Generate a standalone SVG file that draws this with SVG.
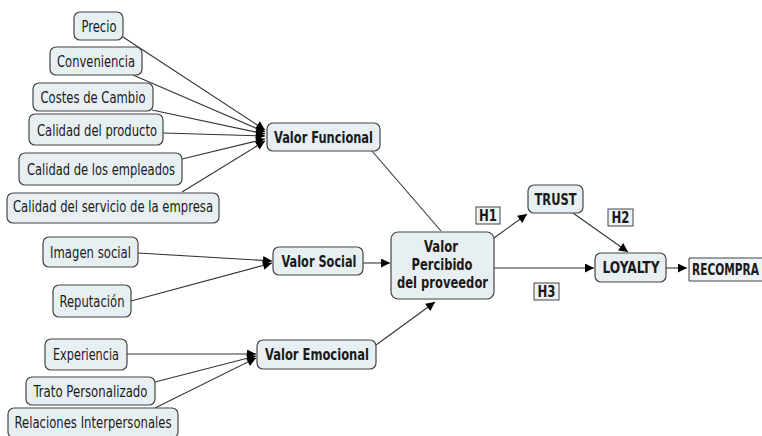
<svg xmlns="http://www.w3.org/2000/svg" width="762" height="436" viewBox="0 0 762 436">
<style>
.n rect{fill:#e8eff3;stroke:#444;stroke-width:1.2}
.n text,.h text{font-family:"DejaVu Sans Condensed","DejaVu Sans","Liberation Sans",sans-serif;font-stretch:condensed;font-size:15px;fill:#1a1a1a;text-anchor:middle}
.b text,.h text{font-weight:bold}
.h rect{fill:#eef3f6;stroke:#444;stroke-width:1}
#c line{stroke:#333;stroke-width:1.1}
</style>
<defs>
<marker id="a" viewBox="0 0 10 10" refX="10" refY="5" markerWidth="10" markerHeight="9" markerUnits="userSpaceOnUse" orient="auto"><path d="M0,0L10,5L0,10z" fill="#000"/></marker>
</defs>
<rect width="762" height="436" fill="#fff"/>
<g id="c">
<line x1="123" y1="37" x2="265" y2="130" marker-end="url(#a)"/>
<line x1="133" y1="75" x2="265" y2="132" marker-end="url(#a)"/>
<line x1="152" y1="110" x2="265" y2="134" marker-end="url(#a)"/>
<line x1="163" y1="133" x2="265" y2="136" marker-end="url(#a)"/>
<line x1="182" y1="159" x2="265" y2="139" marker-end="url(#a)"/>
<line x1="182" y1="192" x2="265" y2="141" marker-end="url(#a)"/>
<line x1="138" y1="253" x2="272" y2="261" marker-end="url(#a)"/>
<line x1="131" y1="301" x2="272" y2="263" marker-end="url(#a)"/>
<line x1="127" y1="354" x2="256" y2="354" marker-end="url(#a)"/>
<line x1="155" y1="382" x2="256" y2="356" marker-end="url(#a)"/>
<line x1="155" y1="408" x2="256" y2="358" marker-end="url(#a)"/>
<line x1="372" y1="151" x2="441" y2="231"/>
<line x1="363" y1="263" x2="390" y2="263" marker-end="url(#a)"/>
<line x1="376" y1="345" x2="435" y2="302" marker-end="url(#a)"/>
<line x1="494" y1="238" x2="527" y2="214" marker-end="url(#a)"/>
<line x1="573" y1="213" x2="628" y2="252" marker-end="url(#a)"/>
<line x1="494" y1="268" x2="594" y2="268" marker-end="url(#a)"/>
<line x1="666" y1="268" x2="687" y2="268" marker-end="url(#a)"/>
</g>
<g id="precio" class="n"><rect x="74" y="12" width="49" height="28" rx="6"/><text x="99" y="32" textLength="35" lengthAdjust="spacingAndGlyphs">Precio</text></g>
<g id="conveniencia" class="n"><rect x="50" y="47" width="92" height="28" rx="6"/><text x="96" y="67" textLength="78" lengthAdjust="spacingAndGlyphs">Conveniencia</text></g>
<g id="costes" class="n"><rect x="33" y="83" width="120" height="28" rx="6"/><text x="93" y="103" textLength="105" lengthAdjust="spacingAndGlyphs">Costes de Cambio</text></g>
<g id="producto" class="n"><rect x="29" y="114" width="134" height="31" rx="6"/><text x="97" y="136" textLength="120" lengthAdjust="spacingAndGlyphs">Calidad del producto</text></g>
<g id="empleados" class="n"><rect x="19" y="153" width="163" height="32" rx="6"/><text x="101" y="175" textLength="148" lengthAdjust="spacingAndGlyphs">Calidad de los empleados</text></g>
<g id="servicio" class="n"><rect x="7" y="193" width="212" height="30" rx="6"/><text x="113" y="212" textLength="200" lengthAdjust="spacingAndGlyphs">Calidad del servicio de la empresa</text></g>
<g id="imagen" class="n"><rect x="43" y="237" width="95" height="30" rx="6"/><text x="90.5" y="258" textLength="81" lengthAdjust="spacingAndGlyphs">Imagen social</text></g>
<g id="reputacion" class="n"><rect x="53" y="285" width="78" height="32" rx="6"/><text x="92" y="307" textLength="65" lengthAdjust="spacingAndGlyphs">Reputación</text></g>
<g id="experiencia" class="n"><rect x="45" y="339" width="82" height="31" rx="6"/><text x="86" y="360" textLength="66" lengthAdjust="spacingAndGlyphs">Experiencia</text></g>
<g id="trato" class="n"><rect x="26" y="377" width="129" height="28" rx="6"/><text x="90.5" y="397" textLength="114" lengthAdjust="spacingAndGlyphs">Trato Personalizado</text></g>
<g id="relaciones" class="n"><rect x="8" y="408" width="170" height="30" rx="6"/><text x="93" y="428" textLength="157" lengthAdjust="spacingAndGlyphs">Relaciones Interpersonales</text></g>
<g id="funcional" class="n b"><rect x="267" y="123" width="113" height="28" rx="6"/><text x="323.5" y="143" textLength="99" lengthAdjust="spacingAndGlyphs">Valor Funcional</text></g>
<g id="social" class="n b"><rect x="273" y="247" width="90" height="28" rx="6"/><text x="319" y="267" textLength="75" lengthAdjust="spacingAndGlyphs">Valor Social</text></g>
<g id="emocional" class="n b"><rect x="257" y="340" width="119" height="29" rx="6"/><text x="317" y="360" textLength="104" lengthAdjust="spacingAndGlyphs">Valor Emocional</text></g>
<g id="percibido" class="n b"><rect x="391" y="232" width="103" height="67" rx="7"/><text x="441" y="252" textLength="34" lengthAdjust="spacingAndGlyphs">Valor</text><text x="442" y="270" textLength="61" lengthAdjust="spacingAndGlyphs">Percibido</text><text x="442.5" y="288" textLength="91" lengthAdjust="spacingAndGlyphs">del proveedor</text></g>
<g id="trust" class="n b"><rect x="528" y="185" width="55" height="28" rx="6"/><text x="555.5" y="205" textLength="42" lengthAdjust="spacingAndGlyphs">TRUST</text></g>
<g id="loyalty" class="n b"><rect x="595" y="253" width="71" height="29" rx="6"/><text x="631" y="273" textLength="57" lengthAdjust="spacingAndGlyphs">LOYALTY</text></g>
<g id="recompra" class="h"><path d="M762,258H689V281H762" fill="#eef3f6" stroke="#444" stroke-width="1"/><text x="692" y="275" style="text-anchor:start" textLength="67" lengthAdjust="spacingAndGlyphs">RECOMPRA</text></g>
<g id="h1" class="h"><rect x="476" y="207" width="24" height="17"/><text x="488" y="221" textLength="18" lengthAdjust="spacingAndGlyphs">H1</text></g>
<g id="h2" class="h"><rect x="608" y="209" width="25" height="17"/><text x="620.5" y="223" textLength="18" lengthAdjust="spacingAndGlyphs">H2</text></g>
<g id="h3" class="h"><rect x="534" y="283" width="25" height="17"/><text x="546.5" y="297" textLength="18" lengthAdjust="spacingAndGlyphs">H3</text></g>
</svg>
